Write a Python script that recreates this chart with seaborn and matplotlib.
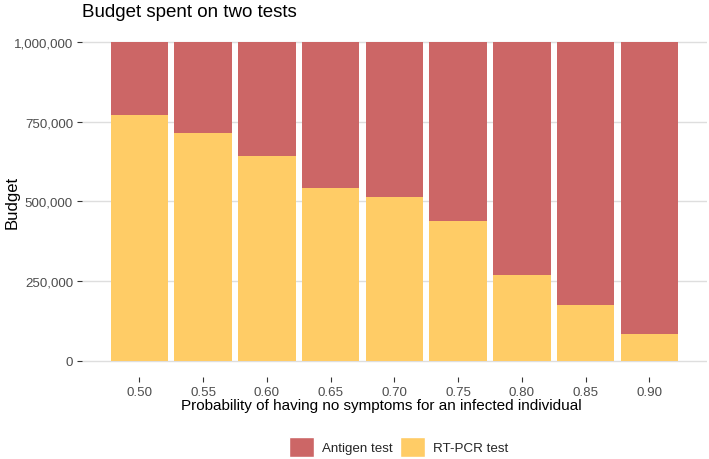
import matplotlib
matplotlib.use('Agg')
import matplotlib.pyplot as plt
import matplotlib.ticker as mticker
from matplotlib.patches import Patch
import seaborn as sns
import pandas as pd

# --- DATA ---
prob_no_symptoms = [0.50, 0.55, 0.60, 0.65, 0.70, 0.75, 0.80, 0.85, 0.90]
total_budget = 1_000_000
rtpcr_budget = [772000, 716000, 642000, 541000, 514000, 439000, 270000, 175000, 84000]
antigen_budget = [total_budget - v for v in rtpcr_budget]

red = '#CC6666'
yellow = '#FFCC66'

df = pd.DataFrame({'prob': prob_no_symptoms,
                   'rtpcr': rtpcr_budget,
                   'antigen': antigen_budget})
df['top'] = df['rtpcr'] + df['antigen']

sns.set_theme(style='whitegrid')
plt.rcParams['font.family'] = ['Liberation Sans', 'DejaVu Sans']

fig = plt.figure(figsize=(7.09, 4.6), dpi=100)
ax = fig.add_axes([0.1157, 0.179, 0.881, 0.762])

# stacked bars: antigen on top of RT-PCR
sns.barplot(data=df, x='prob', y='top', native_scale=True, width=0.9,
            color=red, saturation=1, linewidth=0, ax=ax, zorder=2)
sns.barplot(data=df, x='prob', y='rtpcr', native_scale=True, width=0.9,
            color=yellow, saturation=1, linewidth=0, ax=ax, zorder=3)

ax.set_xlim(0.455, 0.945)
ax.set_ylim(-50000, 1050000)
ax.set_xticks(prob_no_symptoms)
ax.xaxis.set_major_formatter(mticker.FormatStrFormatter('%.2f'))
ax.set_yticks([0, 250000, 500000, 750000, 1000000])
ax.yaxis.set_major_formatter(mticker.FuncFormatter(lambda v, p: f'{int(v):,}'))

ax.grid(axis='x', visible=False)
ax.grid(axis='y', color='#DEDEDE', linewidth=1)
ax.set_axisbelow(True)
for s in ax.spines.values():
    s.set_visible(False)
ax.tick_params(axis='both', which='major', length=3.5, width=0.8, color='#333333',
               labelsize=9.6, labelcolor='#4D4D4D', pad=3)
ax.tick_params(axis='x', bottom=True)
ax.tick_params(axis='y', left=True)

ax.set_xlabel('Probability of having no symptoms for an infected individual',
              fontsize=11, color='black')
ax.xaxis.set_label_coords(0.479, -0.062)
ax.set_ylabel('Budget', fontsize=12, color='black')
ax.yaxis.set_label_coords(-0.1, 0.5)
ax.set_title('Budget spent on two tests', fontsize=13.5, loc='left', pad=7, color='black')

handles = [Patch(facecolor=red, label='Antigen test'),
           Patch(facecolor=yellow, label='RT-PCR test')]
fig.legend(handles=handles, loc='center', ncol=2, frameon=False,
           bbox_to_anchor=(0.562, 0.026), fontsize=9.6, handlelength=1.9, handleheight=1.9,
           columnspacing=0.6, handletextpad=0.55, borderpad=0)

fig.savefig('out.png', dpi=100)
